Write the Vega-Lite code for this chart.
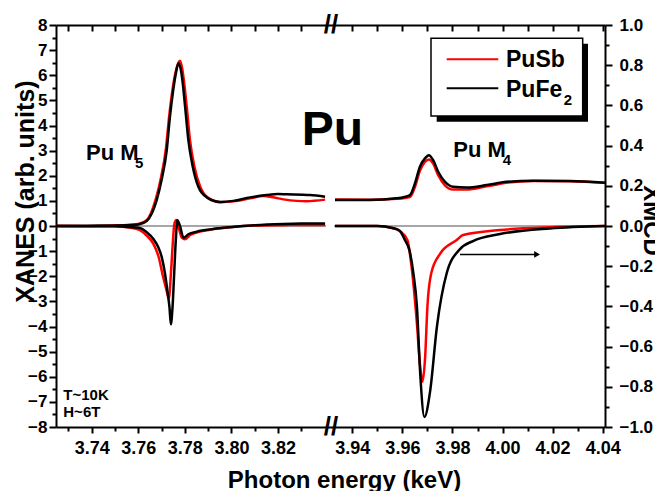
{
  "$schema": "https://vega.github.io/schema/vega-lite/v6.json",
  "width": 549,
  "height": 402,
  "autosize": {"type": "none"},
  "padding": {"left": 56, "top": 25, "right": 50, "bottom": 64},
  "background": "white",
  "config": {
    "view": {"stroke": null},
    "axis": {"domainColor": "#000", "domainWidth": 2, "tickColor": "#000", "tickWidth": 2, "grid": false,
      "labelFont": "Liberation Sans", "labelFontWeight": "bold", "labelColor": "#000",
      "titleFont": "Liberation Sans", "titleFontWeight": "bold", "titleColor": "#000"},
    "text": {"font": "Liberation Sans", "fontWeight": "bold", "color": "#000"}
  },
  "datasets": {
    "xanes": [
      {"s":"PuSb","seg":1,"e":3.7247,"v":0},{"s":"PuSb","seg":1,"e":3.735,"v":0},{"s":"PuSb","seg":1,"e":3.745,"v":0.01},{"s":"PuSb","seg":1,"e":3.752,"v":0.03},{"s":"PuSb","seg":1,"e":3.757,"v":0.05},{"s":"PuSb","seg":1,"e":3.760,"v":0.08},{"s":"PuSb","seg":1,"e":3.7636,"v":0.23},{"s":"PuSb","seg":1,"e":3.7656,"v":0.55},{"s":"PuSb","seg":1,"e":3.7676,"v":1.1},{"s":"PuSb","seg":1,"e":3.7697,"v":1.9},{"s":"PuSb","seg":1,"e":3.7719,"v":3.1},{"s":"PuSb","seg":1,"e":3.7733,"v":4.4},{"s":"PuSb","seg":1,"e":3.7748,"v":5.5},{"s":"PuSb","seg":1,"e":3.7762,"v":6.2},{"s":"PuSb","seg":1,"e":3.7772,"v":6.5},{"s":"PuSb","seg":1,"e":3.7779,"v":6.58},{"s":"PuSb","seg":1,"e":3.7788,"v":6.3},{"s":"PuSb","seg":1,"e":3.7797,"v":5.7},{"s":"PuSb","seg":1,"e":3.7808,"v":4.75},{"s":"PuSb","seg":1,"e":3.7822,"v":3.42},{"s":"PuSb","seg":1,"e":3.7841,"v":2.36},{"s":"PuSb","seg":1,"e":3.7866,"v":1.56},{"s":"PuSb","seg":1,"e":3.7900,"v":1.12},{"s":"PuSb","seg":1,"e":3.7955,"v":0.95},{"s":"PuSb","seg":1,"e":3.8008,"v":0.98},{"s":"PuSb","seg":1,"e":3.8080,"v":1.1},{"s":"PuSb","seg":1,"e":3.8137,"v":1.19},{"s":"PuSb","seg":1,"e":3.8180,"v":1.14},{"s":"PuSb","seg":1,"e":3.8223,"v":1.06},{"s":"PuSb","seg":1,"e":3.8280,"v":1.0},{"s":"PuSb","seg":1,"e":3.8323,"v":0.99},{"s":"PuSb","seg":1,"e":3.8402,"v":1.05},
      {"s":"PuSb","seg":2,"e":3.9331,"v":1.05},{"s":"PuSb","seg":2,"e":3.9471,"v":1.04},{"s":"PuSb","seg":2,"e":3.9577,"v":1.08},{"s":"PuSb","seg":2,"e":3.9630,"v":1.15},{"s":"PuSb","seg":2,"e":3.9650,"v":1.55},{"s":"PuSb","seg":2,"e":3.9670,"v":2.2},{"s":"PuSb","seg":2,"e":3.9690,"v":2.55},{"s":"PuSb","seg":2,"e":3.9706,"v":2.65},{"s":"PuSb","seg":2,"e":3.9723,"v":2.48},{"s":"PuSb","seg":2,"e":3.9743,"v":2.02},{"s":"PuSb","seg":2,"e":3.9770,"v":1.62},{"s":"PuSb","seg":2,"e":3.9803,"v":1.45},{"s":"PuSb","seg":2,"e":3.9857,"v":1.45},{"s":"PuSb","seg":2,"e":3.9937,"v":1.58},{"s":"PuSb","seg":2,"e":4.0016,"v":1.72},{"s":"PuSb","seg":2,"e":4.0123,"v":1.79},{"s":"PuSb","seg":2,"e":4.0269,"v":1.78},{"s":"PuSb","seg":2,"e":4.0409,"v":1.72},
      {"s":"PuFe2","seg":1,"e":3.7247,"v":0},{"s":"PuFe2","seg":1,"e":3.735,"v":0},{"s":"PuFe2","seg":1,"e":3.745,"v":0.01},{"s":"PuFe2","seg":1,"e":3.752,"v":0.02},{"s":"PuFe2","seg":1,"e":3.757,"v":0.04},{"s":"PuFe2","seg":1,"e":3.760,"v":0.06},{"s":"PuFe2","seg":1,"e":3.7636,"v":0.2},{"s":"PuFe2","seg":1,"e":3.7658,"v":0.5},{"s":"PuFe2","seg":1,"e":3.7679,"v":1.03},{"s":"PuFe2","seg":1,"e":3.7700,"v":1.83},{"s":"PuFe2","seg":1,"e":3.7722,"v":3.0},{"s":"PuFe2","seg":1,"e":3.7736,"v":4.35},{"s":"PuFe2","seg":1,"e":3.7750,"v":5.41},{"s":"PuFe2","seg":1,"e":3.7762,"v":6.1},{"s":"PuFe2","seg":1,"e":3.7772,"v":6.47},{"s":"PuFe2","seg":1,"e":3.7781,"v":6.3},{"s":"PuFe2","seg":1,"e":3.7791,"v":5.68},{"s":"PuFe2","seg":1,"e":3.7801,"v":4.75},{"s":"PuFe2","seg":1,"e":3.7815,"v":3.42},{"s":"PuFe2","seg":1,"e":3.7834,"v":2.36},{"s":"PuFe2","seg":1,"e":3.7858,"v":1.56},{"s":"PuFe2","seg":1,"e":3.7894,"v":1.14},{"s":"PuFe2","seg":1,"e":3.7951,"v":0.96},{"s":"PuFe2","seg":1,"e":3.8008,"v":1.0},{"s":"PuFe2","seg":1,"e":3.8080,"v":1.14},{"s":"PuFe2","seg":1,"e":3.8151,"v":1.23},{"s":"PuFe2","seg":1,"e":3.8200,"v":1.27},{"s":"PuFe2","seg":1,"e":3.8237,"v":1.26},{"s":"PuFe2","seg":1,"e":3.8337,"v":1.23},{"s":"PuFe2","seg":1,"e":3.8402,"v":1.16},
      {"s":"PuFe2","seg":2,"e":3.9331,"v":1.03},{"s":"PuFe2","seg":2,"e":3.9471,"v":1.03},{"s":"PuFe2","seg":2,"e":3.9577,"v":1.10},{"s":"PuFe2","seg":2,"e":3.9630,"v":1.23},{"s":"PuFe2","seg":2,"e":3.9650,"v":1.69},{"s":"PuFe2","seg":2,"e":3.9670,"v":2.36},{"s":"PuFe2","seg":2,"e":3.9690,"v":2.69},{"s":"PuFe2","seg":2,"e":3.9706,"v":2.82},{"s":"PuFe2","seg":2,"e":3.9723,"v":2.62},{"s":"PuFe2","seg":2,"e":3.9743,"v":2.16},{"s":"PuFe2","seg":2,"e":3.9770,"v":1.76},{"s":"PuFe2","seg":2,"e":3.9803,"v":1.56},{"s":"PuFe2","seg":2,"e":3.9857,"v":1.53},{"s":"PuFe2","seg":2,"e":3.9937,"v":1.63},{"s":"PuFe2","seg":2,"e":4.0016,"v":1.76},{"s":"PuFe2","seg":2,"e":4.0123,"v":1.80},{"s":"PuFe2","seg":2,"e":4.0269,"v":1.79},{"s":"PuFe2","seg":2,"e":4.0409,"v":1.72}
    ],
    "xmcd": [
      {"s":"PuSb","seg":1,"e":3.7247,"v":0},{"s":"PuSb","seg":1,"e":3.750,"v":-0.003},{"s":"PuSb","seg":1,"e":3.756,"v":-0.008},{"s":"PuSb","seg":1,"e":3.7607,"v":-0.02},{"s":"PuSb","seg":1,"e":3.7636,"v":-0.048},{"s":"PuSb","seg":1,"e":3.7665,"v":-0.089},{"s":"PuSb","seg":1,"e":3.7686,"v":-0.148},{"s":"PuSb","seg":1,"e":3.7707,"v":-0.255},{"s":"PuSb","seg":1,"e":3.7722,"v":-0.323},{"s":"PuSb","seg":1,"e":3.7731,"v":-0.361},{"s":"PuSb","seg":1,"e":3.7740,"v":-0.239},{"s":"PuSb","seg":1,"e":3.7747,"v":-0.106},{"s":"PuSb","seg":1,"e":3.7755,"v":0.011},{"s":"PuSb","seg":1,"e":3.7763,"v":0.03},{"s":"PuSb","seg":1,"e":3.7772,"v":0},{"s":"PuSb","seg":1,"e":3.7787,"v":-0.058},{"s":"PuSb","seg":1,"e":3.7801,"v":-0.066},{"s":"PuSb","seg":1,"e":3.7823,"v":-0.045},{"s":"PuSb","seg":1,"e":3.7865,"v":-0.028},{"s":"PuSb","seg":1,"e":3.7922,"v":-0.015},{"s":"PuSb","seg":1,"e":3.7994,"v":-0.006},{"s":"PuSb","seg":1,"e":3.8100,"v":0.002},{"s":"PuSb","seg":1,"e":3.8223,"v":0.004},{"s":"PuSb","seg":1,"e":3.8300,"v":0.005},{"s":"PuSb","seg":1,"e":3.8402,"v":0.005},
      {"s":"PuSb","seg":2,"e":3.9331,"v":0},{"s":"PuSb","seg":2,"e":3.9500,"v":0},{"s":"PuSb","seg":2,"e":3.9560,"v":-0.01},{"s":"PuSb","seg":2,"e":3.9590,"v":-0.025},{"s":"PuSb","seg":2,"e":3.9620,"v":-0.07},{"s":"PuSb","seg":2,"e":3.9637,"v":-0.206},{"s":"PuSb","seg":2,"e":3.9658,"v":-0.485},{"s":"PuSb","seg":2,"e":3.9671,"v":-0.70},{"s":"PuSb","seg":2,"e":3.9680,"v":-0.775},{"s":"PuSb","seg":2,"e":3.9691,"v":-0.65},{"s":"PuSb","seg":2,"e":3.9700,"v":-0.40},{"s":"PuSb","seg":2,"e":3.9715,"v":-0.236},{"s":"PuSb","seg":2,"e":3.9751,"v":-0.137},{"s":"PuSb","seg":2,"e":3.9817,"v":-0.07},{"s":"PuSb","seg":2,"e":3.9843,"v":-0.045},{"s":"PuSb","seg":2,"e":3.9990,"v":-0.02},{"s":"PuSb","seg":2,"e":4.0189,"v":-0.006},{"s":"PuSb","seg":2,"e":4.0409,"v":0},
      {"s":"PuFe2","seg":1,"e":3.7247,"v":0},{"s":"PuFe2","seg":1,"e":3.750,"v":0},{"s":"PuFe2","seg":1,"e":3.756,"v":-0.005},{"s":"PuFe2","seg":1,"e":3.7607,"v":-0.01},{"s":"PuFe2","seg":1,"e":3.7636,"v":-0.031},{"s":"PuFe2","seg":1,"e":3.7665,"v":-0.065},{"s":"PuFe2","seg":1,"e":3.7686,"v":-0.106},{"s":"PuFe2","seg":1,"e":3.7701,"v":-0.156},{"s":"PuFe2","seg":1,"e":3.7715,"v":-0.239},{"s":"PuFe2","seg":1,"e":3.7725,"v":-0.323},{"s":"PuFe2","seg":1,"e":3.7734,"v":-0.405},{"s":"PuFe2","seg":1,"e":3.7740,"v":-0.489},{"s":"PuFe2","seg":1,"e":3.7747,"v":-0.405},{"s":"PuFe2","seg":1,"e":3.7754,"v":-0.239},{"s":"PuFe2","seg":1,"e":3.7761,"v":-0.073},{"s":"PuFe2","seg":1,"e":3.7768,"v":0.028},{"s":"PuFe2","seg":1,"e":3.7779,"v":0},{"s":"PuFe2","seg":1,"e":3.7794,"v":-0.058},{"s":"PuFe2","seg":1,"e":3.7815,"v":-0.041},{"s":"PuFe2","seg":1,"e":3.7851,"v":-0.028},{"s":"PuFe2","seg":1,"e":3.7922,"v":-0.015},{"s":"PuFe2","seg":1,"e":3.7994,"v":-0.006},{"s":"PuFe2","seg":1,"e":3.8100,"v":0.004},{"s":"PuFe2","seg":1,"e":3.8223,"v":0.01},{"s":"PuFe2","seg":1,"e":3.8300,"v":0.012},{"s":"PuFe2","seg":1,"e":3.8402,"v":0.013},
      {"s":"PuFe2","seg":2,"e":3.9331,"v":0},{"s":"PuFe2","seg":2,"e":3.9500,"v":0},{"s":"PuFe2","seg":2,"e":3.9560,"v":-0.01},{"s":"PuFe2","seg":2,"e":3.9590,"v":-0.025},{"s":"PuFe2","seg":2,"e":3.9610,"v":-0.07},{"s":"PuFe2","seg":2,"e":3.9628,"v":-0.12},{"s":"PuFe2","seg":2,"e":3.9644,"v":-0.236},{"s":"PuFe2","seg":2,"e":3.9658,"v":-0.40},{"s":"PuFe2","seg":2,"e":3.9671,"v":-0.73},{"s":"PuFe2","seg":2,"e":3.9688,"v":-0.95},{"s":"PuFe2","seg":2,"e":3.9711,"v":-0.82},{"s":"PuFe2","seg":2,"e":3.9738,"v":-0.50},{"s":"PuFe2","seg":2,"e":3.9777,"v":-0.235},{"s":"PuFe2","seg":2,"e":3.9830,"v":-0.115},{"s":"PuFe2","seg":2,"e":3.9882,"v":-0.075},{"s":"PuFe2","seg":2,"e":3.9990,"v":-0.04},{"s":"PuFe2","seg":2,"e":4.0189,"v":-0.012},{"s":"PuFe2","seg":2,"e":4.0409,"v":0}
    ],
    "zero": [{"e":3.72467,"e2":3.8406,"v":0},{"e":3.93269,"e2":4.04092,"v":0}],
    "shadow": [{"e":3.9737,"e2":4.03413,"v":7.25,"v2":4.149}],
    "box": [{"e":3.97143,"e2":4.03201,"v":7.47,"v2":4.376}],
    "leglines": [{"s":"PuSb","e":3.9777,"e2":3.9983,"v":6.634},{"s":"PuFe2","e":3.9777,"e2":3.9983,"v":5.479}],
    "legtext": [{"t":"PuSb","e":4.00138,"v":6.315},{"t":"PuFe","e":4.00138,"v":5.144}],
    "big": [{"t":"Pu","e":3.83017,"v":3.22}],
    "mid": [{"t":"Pu M","e":3.73755,"v":2.623},{"t":"Pu M","e":3.98033,"v":2.755}],
    "sub": [{"t":"5","e":3.75859,"v":2.304},{"t":"4","e":4.00006,"v":2.424},{"t":"2","e":4.02442,"v":4.81}],
    "small": [{"t":"T~10K","e":3.7278,"v":-6.909},{"t":"H~6T","e":3.7278,"v":-7.601}],
    "brk": [{"t":"//","e":3.8982,"v":8},{"t":"//","e":3.8982,"v":-8}],
    "arrow": [{"e":3.98301,"e2":4.0140,"v":-1.133}],
    "arrowhead": [{"e":4.0138,"v":-1.133}]
  },
  "layer": [
    {
      "data": {"name": "zero"},
      "mark": {"type": "rule", "color": "#888888", "strokeWidth": 1.5},
      "encoding": {
        "x": {"field": "e", "type": "quantitative", "scale": {"domain": [3.72467, 3.8406, 3.93269, 4.04092], "range": [0, 270, 278, 549], "nice": false, "zero": false},
          "axis": {"orient": "bottom", "values": [3.73, 3.75, 3.77, 3.79, 3.81, 3.83, 3.95, 3.97, 3.99, 4.01, 4.03], "labels": false, "domain": false, "tickSize": 4, "title": null}},
        "x2": {"field": "e2"},
        "y": {"field": "v", "type": "quantitative", "scale": {"domain": [-8, 8], "nice": false, "zero": false},
          "axis": {"orient": "left", "values": [-7.5, -6.5, -5.5, -4.5, -3.5, -2.5, -1.5, -0.5, 0.5, 1.5, 2.5, 3.5, 4.5, 5.5, 6.5, 7.5], "labels": false, "domain": false, "tickSize": 4, "title": null}}
      }
    },
    {
      "data": {"name": "xanes"},
      "transform": [{"filter": "datum.s === 'PuSb'"}],
      "mark": {"type": "line", "color": "#ff0000", "strokeWidth": 2.5, "interpolate": "monotone"},
      "encoding": {
        "x": {"field": "e", "type": "quantitative", "scale": {"domain": [3.72467, 3.8406, 3.93269, 4.04092], "range": [0, 270, 278, 549], "nice": false, "zero": false},
          "axis": {"orient": "bottom", "values": [3.74, 3.76, 3.78, 3.80, 3.82, 3.94, 3.96, 3.98, 4.00, 4.02, 4.04], "format": ".2f", "tickSize": 6, "labelPadding": 6, "labelFontSize": 18,
            "title": "Photon energy (keV)", "titleFontSize": 24, "titleX": 288, "titleY": 60, "titleBaseline": "alphabetic", "titleAlign": "center"}},
        "y": {"field": "v", "type": "quantitative", "scale": {"domain": [-8, 8], "nice": false, "zero": false},
          "axis": {"orient": "left", "values": [-8, -7, -6, -5, -4, -3, -2, -1, 0, 1, 2, 3, 4, 5, 6, 7, 8], "tickSize": 7, "labelPadding": 2, "labelFontSize": 17,
            "title": "XANES (arb. units)", "titleFontSize": 25, "titleX": -23, "titleY": 166, "titleAngle": 270, "titleBaseline": "alphabetic", "titleAlign": "center"}},
        "detail": {"field": "seg", "type": "nominal"}
      }
    },
    {
      "data": {"name": "xanes"},
      "transform": [{"filter": "datum.s === 'PuFe2'"}],
      "mark": {"type": "line", "color": "#000000", "strokeWidth": 2.5, "interpolate": "monotone"},
      "encoding": {
        "x": {"field": "e", "type": "quantitative", "scale": {"domain": [3.72467, 3.8406, 3.93269, 4.04092], "range": [0, 270, 278, 549], "nice": false, "zero": false}, "axis": null},
        "y": {"field": "v", "type": "quantitative", "scale": {"domain": [-8, 8], "nice": false, "zero": false}, "axis": null},
        "detail": {"field": "seg", "type": "nominal"}
      }
    },
    {
      "data": {"name": "xmcd"},
      "transform": [{"filter": "datum.s === 'PuSb'"}],
      "mark": {"type": "line", "color": "#ff0000", "strokeWidth": 2.5, "interpolate": "monotone"},
      "encoding": {
        "x": {"field": "e", "type": "quantitative", "scale": {"domain": [3.72467, 3.8406, 3.93269, 4.04092], "range": [0, 270, 278, 549], "nice": false, "zero": false},
          "axis": {"orient": "top", "values": [3.73, 3.74, 3.75, 3.76, 3.77, 3.78, 3.79, 3.80, 3.81, 3.82, 3.83, 3.94, 3.95, 3.96, 3.97, 3.98, 3.99, 4.00, 4.01, 4.02, 4.03, 4.04], "labels": false, "tickSize": -6, "title": null}},
        "y": {"field": "v", "type": "quantitative", "scale": {"domain": [-1, 1], "nice": false, "zero": false},
          "axis": {"orient": "right", "values": [-1, -0.8, -0.6, -0.4, -0.2, 0, 0.2, 0.4, 0.6, 0.8, 1], "format": ".1f", "tickSize": 7, "labelPadding": 7, "labelFontSize": 17,
            "title": "XMCD", "titleFontSize": 24, "titleX": 38, "titleY": 195, "titleAngle": 90, "titleBaseline": "alphabetic", "titleAlign": "center"}},
        "detail": {"field": "seg", "type": "nominal"}
      }
    },
    {
      "data": {"name": "xmcd"},
      "transform": [{"filter": "datum.s === 'PuFe2'"}],
      "mark": {"type": "line", "color": "#000000", "strokeWidth": 2.5, "interpolate": "monotone"},
      "encoding": {
        "x": {"field": "e", "type": "quantitative", "scale": {"domain": [3.72467, 3.8406, 3.93269, 4.04092], "range": [0, 270, 278, 549], "nice": false, "zero": false}, "axis": null},
        "y": {"field": "v", "type": "quantitative", "scale": {"domain": [-1, 1], "nice": false, "zero": false},
          "axis": {"orient": "right", "values": [-0.9, -0.7, -0.5, -0.3, -0.1, 0.1, 0.3, 0.5, 0.7, 0.9], "labels": false, "domain": false, "tickSize": 4, "title": null}},
        "detail": {"field": "seg", "type": "nominal"}
      }
    },
    {
      "data": {"name": "shadow"},
      "mark": {"type": "rect", "color": "#000000"},
      "encoding": {
        "x": {"field": "e", "type": "quantitative", "scale": {"domain": [3.72467, 3.8406, 3.93269, 4.04092], "range": [0, 270, 278, 549], "nice": false, "zero": false}, "axis": null},
        "x2": {"field": "e2"},
        "y": {"field": "v", "type": "quantitative", "scale": {"domain": [-8, 8], "nice": false, "zero": false}, "axis": null},
        "y2": {"field": "v2"}
      }
    },
    {
      "data": {"name": "box"},
      "mark": {"type": "rect", "fill": "#ffffff", "stroke": "#000000", "strokeWidth": 1.5},
      "encoding": {
        "x": {"field": "e", "type": "quantitative", "scale": {"domain": [3.72467, 3.8406, 3.93269, 4.04092], "range": [0, 270, 278, 549], "nice": false, "zero": false}, "axis": null},
        "x2": {"field": "e2"},
        "y": {"field": "v", "type": "quantitative", "scale": {"domain": [-8, 8], "nice": false, "zero": false}, "axis": null},
        "y2": {"field": "v2"}
      }
    },
    {
      "data": {"name": "leglines"},
      "mark": {"type": "rule", "strokeWidth": 2},
      "encoding": {
        "x": {"field": "e", "type": "quantitative", "scale": {"domain": [3.72467, 3.8406, 3.93269, 4.04092], "range": [0, 270, 278, 549], "nice": false, "zero": false}, "axis": null},
        "x2": {"field": "e2"},
        "y": {"field": "v", "type": "quantitative", "scale": {"domain": [-8, 8], "nice": false, "zero": false}, "axis": null},
        "color": {"field": "s", "type": "nominal", "scale": {"domain": ["PuSb", "PuFe2"], "range": ["#ff0000", "#000000"]}, "legend": null}
      }
    },
    {
      "data": {"name": "legtext"},
      "mark": {"type": "text", "fontSize": 23, "align": "left", "baseline": "alphabetic"},
      "encoding": {
        "x": {"field": "e", "type": "quantitative", "scale": {"domain": [3.72467, 3.8406, 3.93269, 4.04092], "range": [0, 270, 278, 549], "nice": false, "zero": false}, "axis": null},
        "y": {"field": "v", "type": "quantitative", "scale": {"domain": [-8, 8], "nice": false, "zero": false}, "axis": null},
        "text": {"field": "t"}
      }
    },
    {
      "data": {"name": "big"},
      "mark": {"type": "text", "fontSize": 48, "align": "left", "baseline": "alphabetic"},
      "encoding": {
        "x": {"field": "e", "type": "quantitative", "scale": {"domain": [3.72467, 3.8406, 3.93269, 4.04092], "range": [0, 270, 278, 549], "nice": false, "zero": false}, "axis": null},
        "y": {"field": "v", "type": "quantitative", "scale": {"domain": [-8, 8], "nice": false, "zero": false}, "axis": null},
        "text": {"field": "t"}
      }
    },
    {
      "data": {"name": "mid"},
      "mark": {"type": "text", "fontSize": 22, "align": "left", "baseline": "alphabetic"},
      "encoding": {
        "x": {"field": "e", "type": "quantitative", "scale": {"domain": [3.72467, 3.8406, 3.93269, 4.04092], "range": [0, 270, 278, 549], "nice": false, "zero": false}, "axis": null},
        "y": {"field": "v", "type": "quantitative", "scale": {"domain": [-8, 8], "nice": false, "zero": false}, "axis": null},
        "text": {"field": "t"}
      }
    },
    {
      "data": {"name": "sub"},
      "mark": {"type": "text", "fontSize": 15, "align": "left", "baseline": "alphabetic"},
      "encoding": {
        "x": {"field": "e", "type": "quantitative", "scale": {"domain": [3.72467, 3.8406, 3.93269, 4.04092], "range": [0, 270, 278, 549], "nice": false, "zero": false}, "axis": null},
        "y": {"field": "v", "type": "quantitative", "scale": {"domain": [-8, 8], "nice": false, "zero": false}, "axis": null},
        "text": {"field": "t"}
      }
    },
    {
      "data": {"name": "small"},
      "mark": {"type": "text", "fontSize": 15, "align": "left", "baseline": "alphabetic"},
      "encoding": {
        "x": {"field": "e", "type": "quantitative", "scale": {"domain": [3.72467, 3.8406, 3.93269, 4.04092], "range": [0, 270, 278, 549], "nice": false, "zero": false}, "axis": null},
        "y": {"field": "v", "type": "quantitative", "scale": {"domain": [-8, 8], "nice": false, "zero": false}, "axis": null},
        "text": {"field": "t"}
      }
    },
    {
      "data": {"name": "brk"},
      "mark": {"type": "text", "fontSize": 26, "align": "center", "baseline": "middle"},
      "encoding": {
        "x": {"field": "e", "type": "quantitative", "scale": {"domain": [3.72467, 3.8406, 3.93269, 4.04092], "range": [0, 270, 278, 549], "nice": false, "zero": false}, "axis": null},
        "y": {"field": "v", "type": "quantitative", "scale": {"domain": [-8, 8], "nice": false, "zero": false}, "axis": null},
        "text": {"field": "t"}
      }
    },
    {
      "data": {"name": "arrow"},
      "mark": {"type": "rule", "color": "#000000", "strokeWidth": 1.5},
      "encoding": {
        "x": {"field": "e", "type": "quantitative", "scale": {"domain": [3.72467, 3.8406, 3.93269, 4.04092], "range": [0, 270, 278, 549], "nice": false, "zero": false}, "axis": null},
        "x2": {"field": "e2"},
        "y": {"field": "v", "type": "quantitative", "scale": {"domain": [-8, 8], "nice": false, "zero": false}, "axis": null}
      }
    },
    {
      "data": {"name": "arrowhead"},
      "mark": {"type": "point", "shape": "triangle-right", "filled": true, "color": "#000000", "size": 45, "opacity": 1},
      "encoding": {
        "x": {"field": "e", "type": "quantitative", "scale": {"domain": [3.72467, 3.8406, 3.93269, 4.04092], "range": [0, 270, 278, 549], "nice": false, "zero": false}, "axis": null},
        "y": {"field": "v", "type": "quantitative", "scale": {"domain": [-8, 8], "nice": false, "zero": false}, "axis": null}
      }
    }
  ],
  "resolve": {"scale": {"y": "independent"}, "axis": {"x": "independent", "y": "independent"}}
}
